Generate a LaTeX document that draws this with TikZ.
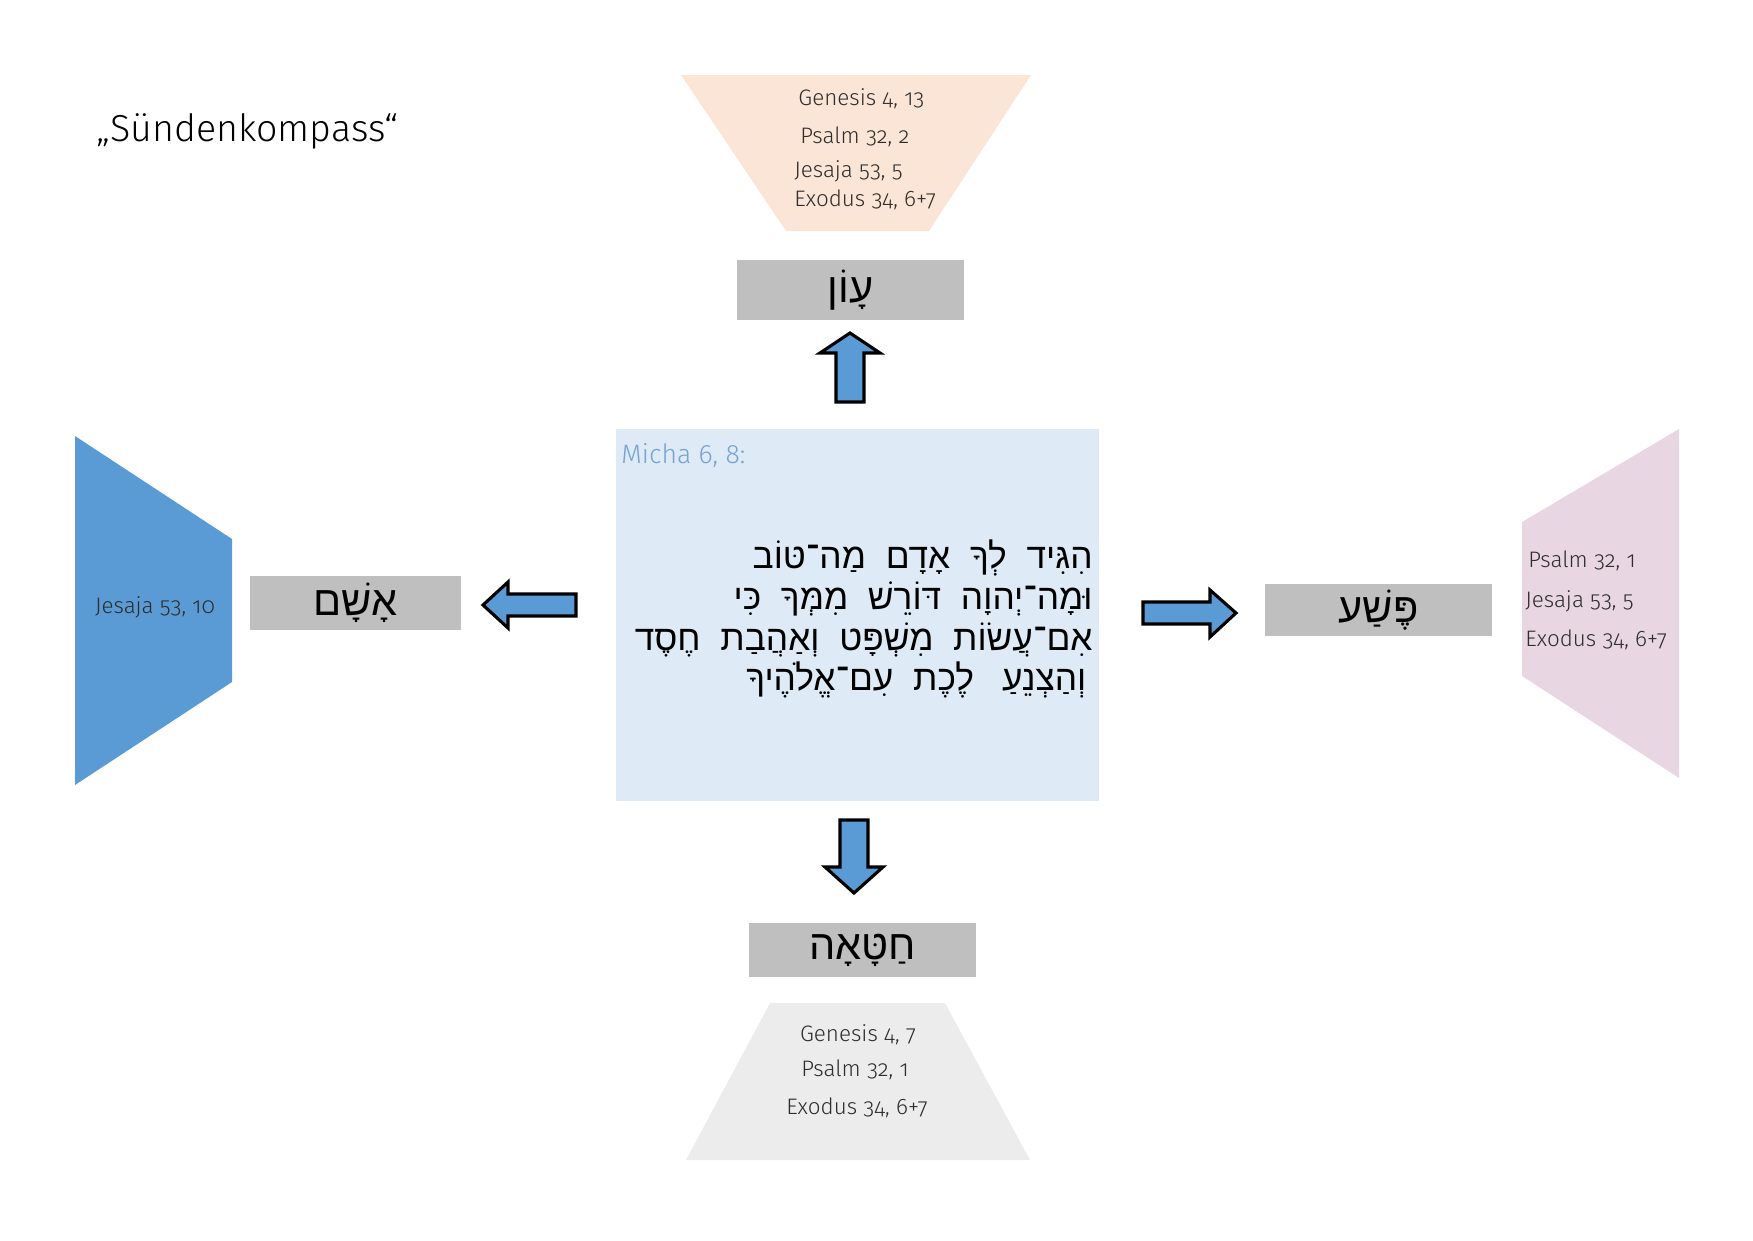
\documentclass[tikz,border=0pt]{standalone}
\usepackage{fontspec}
\setmainfont{Fira Sans}[UprightFont=* Light, Numbers=OldStyle]
\newfontfamily\hebfont[Script=Hebrew]{Liberation Sans}
\TeXXeTstate=1
\newcommand\versespacing{\spaceskip=9.5pt plus 1pt\relax}
\definecolor{peach}{RGB}{251,229,214}
\definecolor{sinblue}{RGB}{91,155,213}
\definecolor{rose}{RGB}{232,215,227}
\definecolor{pale}{RGB}{236,236,236}
\definecolor{skyback}{RGB}{222,235,247}
\definecolor{labelgrey}{RGB}{191,191,191}
\definecolor{michablue}{RGB}{120,162,212}
\definecolor{reftext}{RGB}{45,45,45}
\begin{document}
\begin{tikzpicture}[x=0.016942cm, y=-0.016942cm]
			\tikzstyle{lbl} = [fill=labelgrey, minimum width=3.85cm, minimum height=0.92cm, inner sep=0, font=\hebfont\fontsize{20}{24}\selectfont]
			\tikzstyle{ref} = [inner sep=0, text=reftext, font=\fontsize{10.8}{12}\selectfont]
			\tikzstyle{blockarrow} = [fill=sinblue, draw=black, line width=1.5pt, line join=miter]
			\useasboundingbox (0,0) rectangle (1753,1240);

			\fill [peach] (681,75) -- (1031,75) -- (929,231) -- (786,231) -- cycle;
			\fill [sinblue] (75,436) -- (232,539) -- (232,682) -- (75,785) -- cycle;
			\fill [rose] (1679,429) -- (1679,778) -- (1522,676) -- (1522,522) -- cycle;
			\fill [pale] (770,1003) -- (945,1003) -- (1030,1160) -- (686,1160) -- cycle;

			\node [fill=skyback, minimum width=8.18cm, minimum height=6.30cm, inner sep=0] (micha) at (857.5,615) {};
			\node [anchor=west, inner sep=0, text=michablue, font=\fontsize{12.8}{15}\selectfont] (micharef) at (621,455) {Micha 6, 8:};
			\node [anchor=east, inner sep=0, align=right, font=\hebfont\fontsize{17}{19.6}\selectfont\versespacing] (verse) at (1093,619)
				{\beginR הִגִּיד לְךָ אָדָם מַה־טּוֹב\endR\\
				 \beginR וּמָה־יְהוָה דּוֹרֵשׁ מִמְּךָ כִּי\endR\\
				 \beginR אִם־עֲשׂוֹת מִשְׁפָּט וְאַהֲבַת חֶסֶד\endR\\
				 \beginR\hspace*{3pt}וְהַצְנֵעַ\hspace{4pt} לֶכֶת עִם־אֱלֹהֶיךָ\endR};

			\node [anchor=west, inner sep=0, font=\fontsize{18.1}{21}\selectfont] (title) at (96,131) {„Sündenkompass“};

			\node [lbl, minimum height=1.0cm] (awon) at (850.5,290) {\beginR עָוֹן\endR};
			\node [lbl, minimum width=3.575cm] (asham) at (355.5,603) {\beginR אָשָׁם\endR};
			\node [lbl, minimum height=0.88cm] (pesha) at (1378.5,610) {\beginR פֶּשַׁע\endR};
			\node [lbl] (chataah) at (862.5,950) {\beginR חַטָּאָה\endR};

			\node [ref, anchor=west] (t1) at (798,99) {Genesis 4, 13};
			\node [ref, anchor=west] (t2) at (800,137) {Psalm 32, 2};
			\node [ref, anchor=west] (t3) at (794,171) {Jesaja 53, 5};
			\node [ref, anchor=west] (t4) at (794,200) {Exodus 34, 6+7};

			\node [ref] (l1) at (155,607) {Jesaja 53, 10};

			\node [ref, anchor=west] (r1) at (1528,561) {Psalm 32, 1};
			\node [ref, anchor=west] (r2) at (1525,601) {Jesaja 53, 5};
			\node [ref, anchor=west] (r3) at (1525,640) {Exodus 34, 6+7};

			\node [ref] (b1) at (858,1035) {Genesis 4, 7};
			\node [ref] (b2) at (855,1070) {Psalm 32, 1};
			\node [ref] (b3) at (857,1108) {Exodus 34, 6+7};

			\draw [blockarrow] (850,333) -- (880,353) -- (864,353) -- (864,402) -- (836,402) -- (836,353) -- (820,353) -- cycle;
			\draw [blockarrow] (854,893) -- (825,867) -- (840,867) -- (840,820) -- (868,820) -- (868,867) -- (883,867) -- cycle;
			\draw [blockarrow] (483,605) -- (508,582) -- (508,594) -- (576,594) -- (576,616) -- (508,616) -- (508,628) -- cycle;
			\draw [blockarrow] (1236,613) -- (1210,590) -- (1210,602) -- (1143,602) -- (1143,624) -- (1210,624) -- (1210,637) -- cycle;
		\end{tikzpicture}
\end{document}
